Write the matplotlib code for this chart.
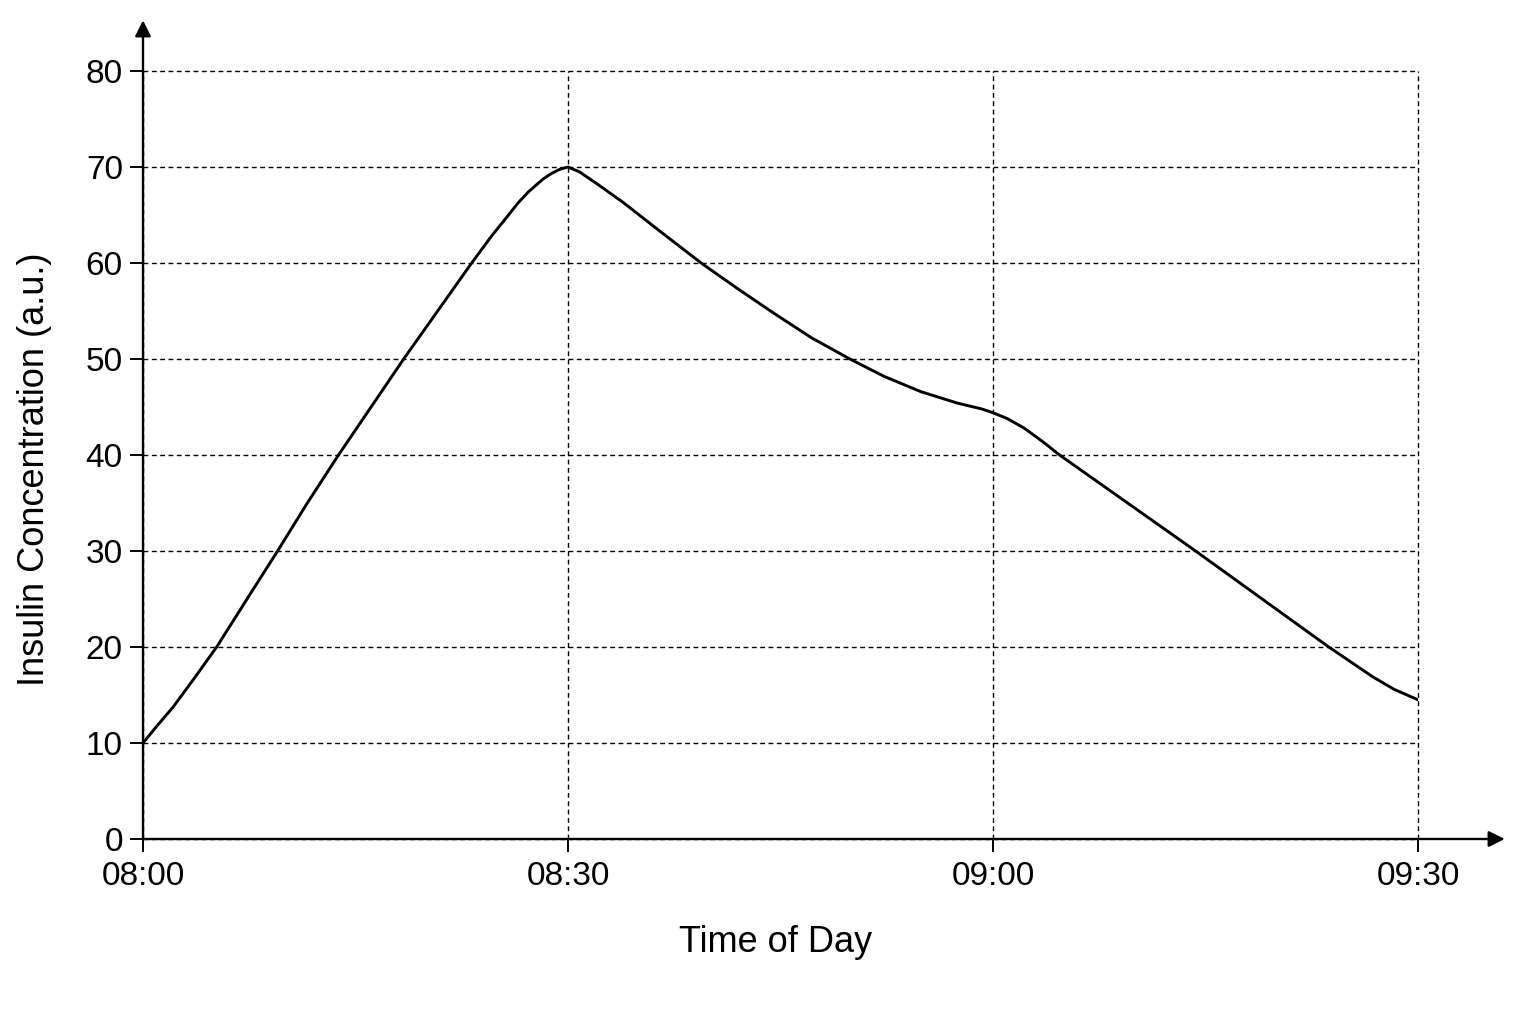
import numpy as np
import matplotlib
matplotlib.use("Agg")
import matplotlib.pyplot as plt

plt.rcParams['font.family'] = ['Liberation Sans', 'DejaVu Sans']

# minutes after 08:00 and insulin level
minutes = [0, 1.0, 2.1, 3.5, 5.2, 7.3, 9.5, 11.6, 13.8, 16.1, 18.4, 20.8,
           23.2, 24.6, 25.8, 26.5, 27.2, 28.2, 28.8, 29.4, 30,
           30.8, 32.0, 33.9, 36.5, 39.4, 42.0, 44.6, 47.2, 49.9, 52.3,
           54.9, 57.5, 59.2, 60, 61.0, 62.2, 63.5, 64.7, 69.5, 74.3,
           79.0, 83.7, 85.3, 86.8, 88.3, 90]
insulin = [10, 11.8, 13.7, 16.5, 20, 24.9, 30, 35, 40, 45, 50, 55,
           60, 62.8, 65, 66.3, 67.4, 68.7, 69.3, 69.75, 70,
           69.5, 68.3, 66.3, 63.3, 60, 57.3, 54.7, 52.2, 50, 48.2,
           46.6, 45.4, 44.8, 44.4, 43.8, 42.8, 41.4, 40, 35, 30,
           25, 20, 18.4, 16.9, 15.6, 14.5]

xticks = [0, 30, 60, 90]
xlabels = ['08:00', '08:30', '09:00', '09:30']
yticks = list(range(0, 81, 10))

fig = plt.figure(figsize=(15.36, 10.24), dpi=100)
ax = fig.add_axes([143/1536, 185/1024, 1275/1536, 768/1024])

ax.plot(minutes, insulin, color='black', lw=2.1, solid_capstyle='round',
        solid_joinstyle='round', zorder=3)

ax.set_xlim(0, 90)
ax.set_ylim(0, 80)
ax.set_xticks(xticks)
ax.set_xticklabels(xlabels)
ax.set_yticks(yticks)

ax.grid(True, color='black', lw=1.0, linestyle=(0, (3.5, 2.5)))
for gl in ax.get_xgridlines() + ax.get_ygridlines():
    gl.set_clip_on(False)
ax.set_axisbelow(True)

for s in ax.spines.values():
    s.set_visible(False)

ax.tick_params(axis='both', direction='out', length=9.5, width=1.4,
               labelsize=24, color='black')
ax.tick_params(axis='x', pad=6)
ax.tick_params(axis='y', pad=5)

# axes with arrow heads
ax.annotate('', xy=(1.068, 0), xytext=(0, 0), xycoords='axes fraction',
            arrowprops=dict(arrowstyle='-|>', color='black', lw=1.7,
                            mutation_scale=24, shrinkA=0, shrinkB=0))
ax.annotate('', xy=(0, 1.066), xytext=(0, 0), xycoords='axes fraction',
            arrowprops=dict(arrowstyle='-|>', color='black', lw=1.7,
                            mutation_scale=24, shrinkA=0, shrinkB=0))

fig.text(776/1536, 1 - 942/1024, 'Time of Day', fontsize=26,
         ha='center', va='center')
fig.text(35/1536, 1 - 469/1024, 'Insulin Concentration (a.u.)', fontsize=26,
         ha='center', va='center', rotation=90)

fig.savefig('out.png', dpi=100, facecolor='white')
